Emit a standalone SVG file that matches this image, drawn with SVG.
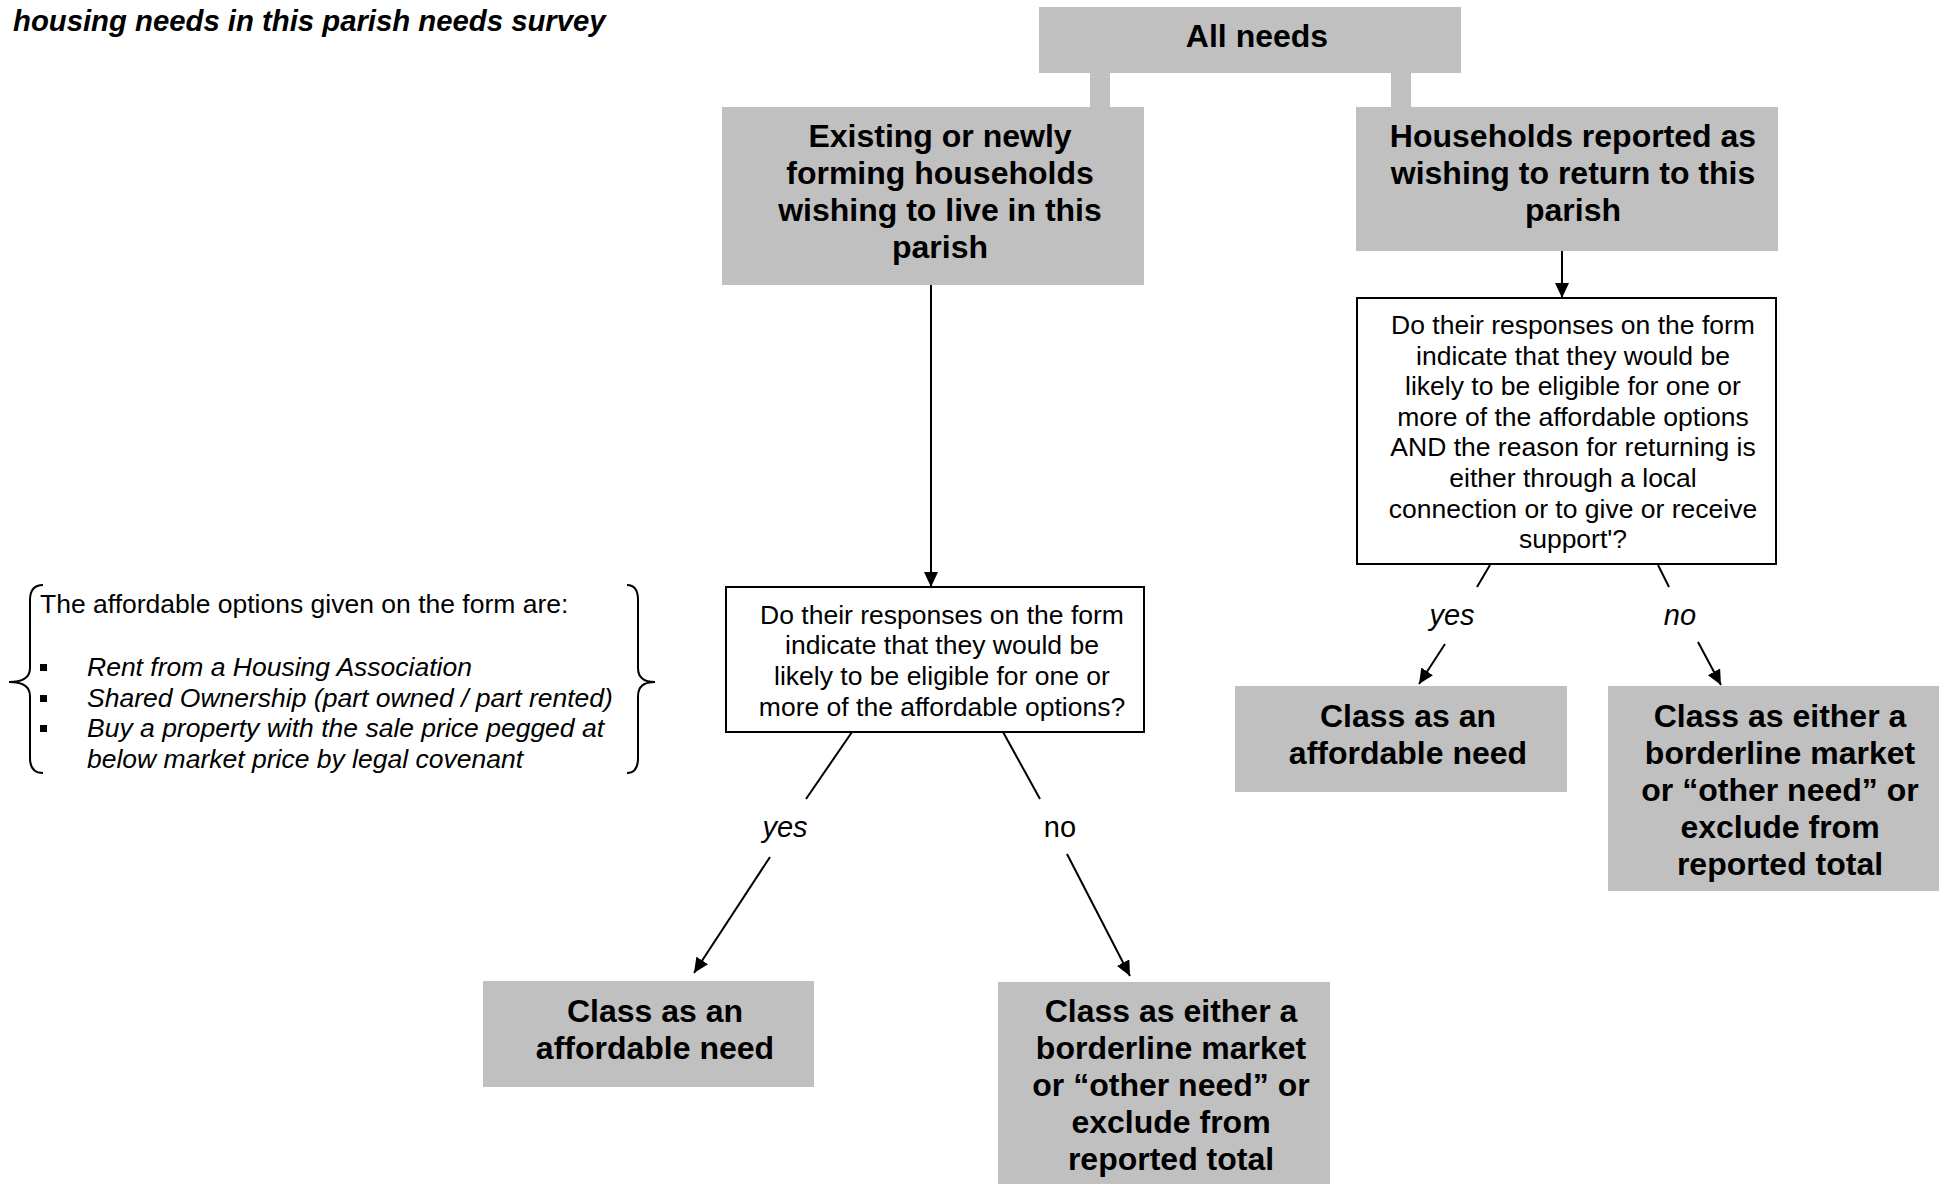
<svg xmlns="http://www.w3.org/2000/svg" width="1939" height="1184" viewBox="0 0 1939 1184">
<style>
.g{fill:#c0c0c0}
.q{fill:#fff;stroke:#000;stroke-width:2}
.b{font-family:"Liberation Sans",Arial,sans-serif;font-weight:bold;font-size:32px;text-anchor:middle;fill:#000}
.r{font-family:"Liberation Sans",Arial,sans-serif;font-size:26.5px;text-anchor:middle;fill:#000}
.n{font-family:"Liberation Sans",Arial,sans-serif;font-size:26.5px;fill:#000}
.i{font-style:italic}
.l{font-family:"Liberation Sans",Arial,sans-serif;font-size:29px;text-anchor:middle;fill:#000}
.c{stroke:#000;stroke-width:2;fill:none}
</style>
<defs>
<marker id="ah" viewBox="0 0 15 14" refX="15" refY="7" markerWidth="15" markerHeight="14" markerUnits="userSpaceOnUse" orient="auto">
<path d="M0,0 L15,7 L0,14 z" fill="#000"/>
</marker>
</defs>

<text x="13" y="31" font-family="Liberation Sans, Arial, sans-serif" font-size="29.3" font-weight="bold" font-style="italic">housing needs in this parish needs survey</text>

<g id="connectors">
<rect class="g" x="1090" y="72" width="20" height="36"/>
<rect class="g" x="1391" y="72" width="20" height="36"/>
<line class="c" x1="931" y1="285" x2="931" y2="587" marker-end="url(#ah)"/>
<line class="c" x1="1562" y1="251" x2="1562" y2="298" marker-end="url(#ah)"/>
<line class="c" x1="852" y1="732" x2="806" y2="799"/>
<line class="c" x1="770" y1="857" x2="694" y2="973" marker-end="url(#ah)"/>
<line class="c" x1="1003" y1="732" x2="1040" y2="799"/>
<line class="c" x1="1067" y1="854" x2="1130" y2="976" marker-end="url(#ah)"/>
<line class="c" x1="1490" y1="565" x2="1477" y2="587"/>
<line class="c" x1="1445" y1="644" x2="1419" y2="684" marker-end="url(#ah)"/>
<line class="c" x1="1658" y1="565" x2="1669" y2="587"/>
<line class="c" x1="1698" y1="642" x2="1721" y2="685" marker-end="url(#ah)"/>
<text class="l i" x="785" y="837">yes</text>
<text class="l" x="1060" y="837">no</text>
<text class="l i" x="1452" y="625">yes</text>
<text class="l i" x="1680" y="625">no</text>
</g>

<g id="all-needs">
<rect class="g" x="1039" y="7" width="422" height="66"/>
<text class="b" x="1257" y="47">All needs</text>
</g>

<g id="existing">
<rect class="g" x="722" y="107" width="422" height="178"/>
<text class="b" x="940" y="146.5">Existing or newly</text>
<text class="b" x="940" y="183.5">forming households</text>
<text class="b" x="940" y="220.5">wishing to live in this</text>
<text class="b" x="940" y="257.5">parish</text>
</g>

<g id="returning">
<rect class="g" x="1356" y="107" width="422" height="144"/>
<text class="b" x="1573" y="146.5">Households reported as</text>
<text class="b" x="1573" y="183.5">wishing to return to this</text>
<text class="b" x="1573" y="220.5">parish</text>
</g>

<g id="question-1">
<rect class="q" x="726" y="587" width="418" height="145"/>
<text class="r" x="942" y="623.5">Do their responses on the form</text>
<text class="r" x="942" y="654.2">indicate that they would be</text>
<text class="r" x="942" y="684.9">likely to be eligible for one or</text>
<text class="r" x="942" y="715.6">more of the affordable options?</text>
</g>

<g id="question-2">
<rect class="q" x="1357" y="298" width="419" height="266"/>
<text class="r" x="1573" y="334">Do their responses on the form</text>
<text class="r" x="1573" y="364.6">indicate that they would be</text>
<text class="r" x="1573" y="395.2">likely to be eligible for one or</text>
<text class="r" x="1573" y="425.8">more of the affordable options</text>
<text class="r" x="1573" y="456.4">AND the reason for returning is</text>
<text class="r" x="1573" y="487">either through a local</text>
<text class="r" x="1573" y="517.6">connection or to give or receive</text>
<text class="r" x="1573" y="548.2">support'?</text>
</g>

<g id="affordable-1">
<rect class="g" x="483" y="981" width="331" height="106"/>
<text class="b" x="655" y="1022">Class as an</text>
<text class="b" x="655" y="1059">affordable need</text>
</g>

<g id="other-1">
<rect class="g" x="998" y="982" width="332" height="210"/>
<text class="b" x="1171" y="1022">Class as either a</text>
<text class="b" x="1171" y="1059">borderline market</text>
<text class="b" x="1171" y="1096">or “other need” or</text>
<text class="b" x="1171" y="1133">exclude from</text>
<text class="b" x="1171" y="1170">reported total</text>
</g>

<g id="affordable-2">
<rect class="g" x="1235" y="686" width="332" height="106"/>
<text class="b" x="1408" y="727">Class as an</text>
<text class="b" x="1408" y="764">affordable need</text>
</g>

<g id="other-2">
<rect class="g" x="1608" y="686" width="332" height="205"/>
<text class="b" x="1780" y="727">Class as either a</text>
<text class="b" x="1780" y="764">borderline market</text>
<text class="b" x="1780" y="801">or “other need” or</text>
<text class="b" x="1780" y="838">exclude from</text>
<text class="b" x="1780" y="875">reported total</text>
</g>

<g id="options-note">
<path class="c" d="M43,585 Q30,585 30,600 L30,668 Q30,682 9,682 Q30,682 30,696 L30,758 Q30,773 43,773" stroke-width="1.8"/>
<path class="c" d="M627,585 Q638,585 638,600 L638,668 Q638,682 655,682 Q638,682 638,696 L638,758 Q638,773 627,773" stroke-width="1.8"/>
<text class="n" x="40" y="613">The affordable options given on the form are:</text>
<rect x="40" y="664" width="7" height="7"/>
<rect x="40" y="695" width="7" height="7"/>
<rect x="40" y="725" width="7" height="7"/>
<text class="n i" x="87" y="676">Rent from a Housing Association</text>
<text class="n i" x="87" y="706.5">Shared Ownership (part owned / part rented)</text>
<text class="n i" x="87" y="737">Buy a property with the sale price pegged at</text>
<text class="n i" x="87" y="767.5">below market price by legal covenant</text>
</g>
</svg>
